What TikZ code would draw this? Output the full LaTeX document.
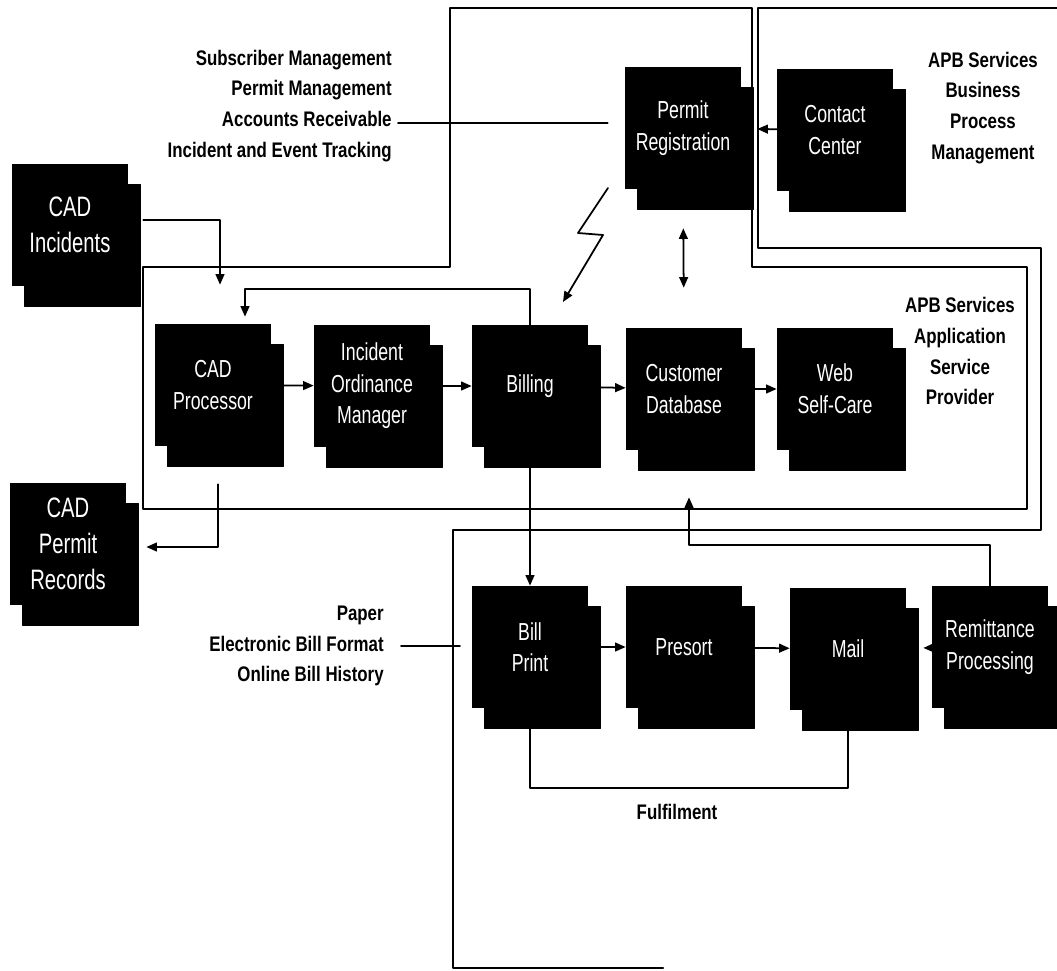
\documentclass[tikz,border=0pt]{standalone}
\usepackage{fontspec}
\setmainfont{Liberation Sans}
\newfontfamily\boxfont[FakeStretch=0.72]{Liberation Sans}
\newfontfamily\tagfont[FakeStretch=0.8]{Liberation Sans}
\usetikzlibrary{arrows.meta,shadows}

\begin{document}
\begin{tikzpicture}[x=0.02cm, y=-0.02cm, line cap=round, line join=round,
  doc/.style={fill=black, text=white, minimum width=2.32cm, minimum height=2.44cm,
    inner sep=0pt, align=center, font=\boxfont\fontsize{14}{18}\selectfont,
    copy shadow={shadow xshift=0.24cm, shadow yshift=-0.4cm, fill=black}},
  bigdoc/.style={doc, font=\boxfont\fontsize{16}{20.4}\selectfont},
  tag/.style={font=\tagfont\bfseries\fontsize{12}{17.6}\selectfont, inner sep=0pt},
  boundary/.style={line width=1.3pt},
  link/.style={line width=1pt},
  flow/.style={link, -{Triangle[length=6pt,width=5pt]}}]
  \useasboundingbox (0,0) rectangle (1057,970);
  \draw[boundary] (143,267) -- (450,267) -- (450,8) -- (752,8) -- (752,267)
    -- (1027,267) -- (1027,509) -- (143,509) -- cycle;
  \draw[boundary] (1062,8) -- (758,8) -- (758,248) -- (1041,248) -- (1041,530)
    -- (453,530) -- (453,968) -- (663,968);

  \node[bigdoc] (ci) at (70,225) {CAD\\Incidents};
  \node[bigdoc] (cpr) at (68,544) {CAD\\Permit\\Records};
  \node[doc] (preg) at (683,128) {Permit\\Registration};
  \node[doc] (cc) at (835,130) {Contact\\Center};
  \node[doc] (cadp) at (213,385) {CAD\\Processor};
  \node[doc] (iom) at (372,386) {Incident\\Ordinance\\Manager};
  \node[doc] (bill) at (530,386) {Billing};
  \node[doc] (cdb) at (684,389) {Customer\\Database};
  \node[doc] (web) at (835,389) {Web\\Self-Care};
  \node[doc] (bp) at (530,647) {Bill\\Print};
  \node[doc] (pre) at (684,647) {Presort};
  \node[doc] (mail) at (848,649) {Mail};
  \node[doc] (rem) at (990,647) {Remittance\\Processing};

  \node[tag, align=right, anchor=east] (apps) at (392,106)
    {Subscriber Management\\Permit Management\\Accounts Receivable\\Incident and Event Tracking};
  \node[tag, align=center] (bpm) at (983,108) {APB Services\\Business\\Process\\Management};
  \node[tag, align=center] (asp) at (960,351) {APB Services\\Application\\Service\\Provider};
  \node[tag, align=right, anchor=east] (media) at (384,646)
    {Paper\\Electronic Bill Format\\Online Bill History};
  \node[tag] (ful) at (677,812) {Fulfilment};

  \coordinate (bolt) at (608,188);
  \coordinate (fin) at (460,646);

  \draw[link] ([xshift=0.12cm,yshift=-0.34cm]apps.east) -- ([xshift=-0.34cm,yshift=0.1cm]preg.west);
  \draw[flow, shorten >=0.32cm] (cc) -- (preg);
  \draw[flow] (bolt) -- ++(-30,45) -- ++(25,2) -- ++(-40,67);
  \draw[link, {Triangle[length=6pt,width=5pt]}-{Triangle[length=6pt,width=5pt]},
    shorten <=0.78cm, shorten >=0.8cm] (preg.south) -- (cdb.north);
  \draw[flow, shorten <=0.3cm, shorten >=0.78cm] ([yshift=0.1cm]ci.east) -| ([xshift=0.14cm]cadp.north);
  \draw[flow, shorten >=0.14cm] (bill.north) -- ++(0,-36) -| ([xshift=0.64cm]cadp.north);
  \draw[flow, shorten <=0.24cm] (cadp) -- (iom);
  \draw[flow, shorten <=0.24cm] (iom) -- (bill);
  \draw[flow, shorten <=0.24cm] (bill) -- (cdb);
  \draw[flow, shorten <=0.24cm] (cdb) -- (web);
  \draw[flow, shorten <=0.76cm, shorten >=0.4cm] ([xshift=0.1cm]cadp.south) |- ([yshift=-0.06cm]cpr.east);
  \draw[flow] (bill.south) -- (bp.north);
  \draw[flow, shorten <=0.24cm] (bp) -- (pre);
  \draw[flow, shorten <=0.24cm] (pre) -- (mail);
  \draw[flow, shorten >=0.34cm] (rem) -- (mail);
  \draw[flow, shorten >=0.94cm] (rem.north) -- ++(0,-41) -| ([xshift=0.1cm]cdb.south);
  \draw[link] (bp.south) -- ++(0,80) -| (mail.south);
  \draw[link] ([xshift=0.34cm]media.east) -- (fin);
\end{tikzpicture}
\end{document}
